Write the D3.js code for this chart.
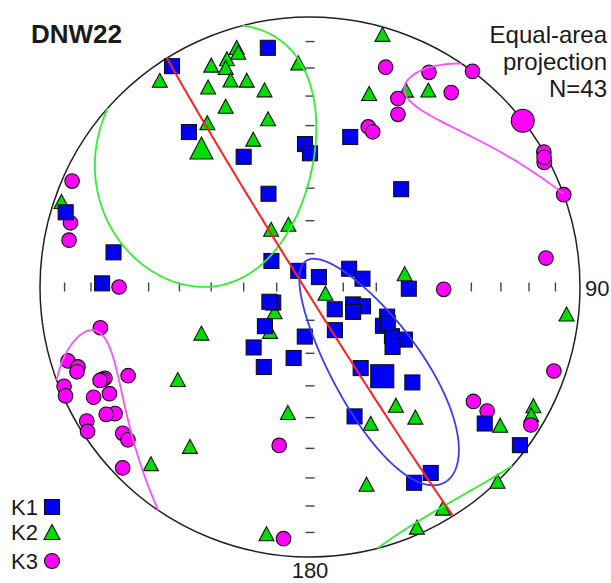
<!DOCTYPE html>
<html>
<head>
<meta charset="utf-8">
<script src="https://cdn.jsdelivr.net/npm/d3@7"></script>
<style>
  body { margin: 0; background: #fff; }
  text { font-family: "Liberation Sans", Arial, sans-serif; fill: #1a1a1a; }
</style>
</head>
<body>
<div id="container"></div>
<script>
/* DATA : principal susceptibility axes, [trend, plunge] in degrees */
const k1 = [
  [328,4],[350,11],[322,28],[333,45],[358,46],[0,49],[15,42],[43,49],[336,59],[287,6],
  [280,27],[271,24],[304,76],[324,84],[42,86],[65,77],[81,74],[91,60],[247,78],[229,72],
  [186,75],[223,65],[210,62],[193,68],[132,80],[112,76],[110,73],[120,75],[111,65],[118,65],
  [121,61],[119,57],[126,59],[150,75],[148,61],[161,48],[133,47],[152,19],[147,19],[128,19],
  [127,3],[250,77],[115,64]
];
const k2 = [
  [324,6],[336,11],[340,11],[343,8],[343,10],[339,14],[339,19],[343,21],[333,18],[347,26],
  [335,27],[346,36],[328,29],[339,41],[357,18],[16,3],[17,26],[26,20],[31,16],[289,3],
  [341,70],[326,69],[82,61],[112,85],[235,77],[222,72],[247,54],[235,40],[190,51],[144,45],
  [141,38],[156,44],[164,25],[96,5],[126,14],[118,7],[120,6],[136,0],[149,5],[156,3],
  [217,27],[222,13],[190,8]
];
const k3 = [
  [294,4],[285,9],[281,10],[270,30],[19,15],[29,10],[37,0],[36,12],[25,24],[27,29],
  [20,37],[22,38],[60,0],[62,2],[70,0],[83,13],[91,49],[259,22],[253,7],[251,10],
  [250,9],[248,2],[246,1],[246,18],[246,17],[244,26],[242,17],[243,11],[237,15],[238,12],
  [239,4],[237,2],[232,13],[230,13],[226,4],[191,40],[186,7],[109,5],[125,27],[125,21],
  [122,4],[246,16],[61,1]
];

// mean tensor axes
const k1Mean = [141, 55];
const k2Mean = [322, 35];
const k3Mean = [52, 0];

// 95% confidence cones: centre, semi-angles a / b, rotation of a from trend direction
const k1Cone = { trend: 141, plunge: 55, a: 42, b: 13, rot: 96 };
const k2Cone = { trend: 322, plunge: 35, a: 42, b: 32, rot: 115 };
const k3Cone = { trend: 52, plunge: 0, a: 33, b: 13, rot: 138 };

// plane (dip direction, dip)
const plane = { dipDir: 238, dip: 88.5 };

// plunge ticks along the N-S and E-W axes
const tickPlunges = [10, 20, 30, 40, 50, 60, 70, 80];
const tickTrends = [0, 90, 180, 270];

const sampleName = "DNW22";
const infoLines = ["Equal-area", "projection", "N=43"];

/* CONSTANTS */
const width = 611, height = 583;
const cx = 310, cy = 287, R = 270;
const rad = Math.PI / 180;

/* SCALES */
const x = d3.scaleLinear().domain([-1, 1]).range([cx - R, cx + R]);
const y = d3.scaleLinear().domain([-1, 1]).range([cy + R, cy - R]);

// unit vector: east, north, down
function vec(trend, plunge) {
  const t = trend * rad, p = plunge * rad;
  return [Math.cos(p) * Math.sin(t), Math.cos(p) * Math.cos(t), Math.sin(p)];
}
const norm = v => { const l = Math.hypot(v[0], v[1], v[2]); return v.map(d => d / l); };
const neg = v => v.map(d => -d);

// lower hemisphere equal-area projection
function toXY(v) {
  const s = v[2] < 0 ? -1 : 1;
  const k = 1 / Math.sqrt(1 + s * v[2]);
  return [x(s * v[0] * k), y(s * v[1] * k)];
}

// confidence cone -> list of projected segments (split at the primitive)
function conePaths(c) {
  const C = vec(c.trend, c.plunge);
  const T = c.trend * rad, P = c.plunge * rad, f = c.rot * rad;
  const e1 = [Math.cos(T), -Math.sin(T), 0];
  const e2 = [-Math.sin(P) * Math.sin(T), -Math.sin(P) * Math.cos(T), Math.cos(P)];
  const m = e1.map((d, i) => Math.cos(f) * d + Math.sin(f) * e2[i]);
  const n = e1.map((d, i) => -Math.sin(f) * d + Math.cos(f) * e2[i]);
  const ta = Math.tan(c.a * rad), tb = Math.tan(c.b * rad);
  const segs = [];
  let cur = null, prev = null;
  for (let i = 0; i <= 360; i++) {
    const t = 2 * Math.PI * i / 360;
    const v = norm(C.map((d, j) => d + ta * Math.cos(t) * m[j] + tb * Math.sin(t) * n[j]));
    const lower = v[2] >= 0;
    if (cur === null) {
      cur = { lower, pts: [toXY(v)] };
    } else if (lower !== cur.lower) {
      const k = prev[2] / (prev[2] - v[2]);
      let q = prev.map((p, j) => p + k * (v[j] - p));
      q[2] = 0; q = norm(q);
      cur.pts.push(toXY(cur.lower ? q : neg(q)));
      segs.push(cur);
      cur = { lower, pts: [toXY(lower ? q : neg(q)), toXY(v)] };
    } else {
      cur.pts.push(toXY(v));
    }
    prev = v;
  }
  segs.push(cur);
  if (segs.length > 1 && segs[0].lower === segs[segs.length - 1].lower) {
    const last = segs.pop();
    segs[0].pts = last.pts.concat(segs[0].pts.slice(1));
  }
  return segs.map(s => s.pts);
}

function greatCircle(p) {
  const s = vec(p.dipDir - 90, 0);
  const d = vec(p.dipDir, p.dip);
  return d3.range(0, 181, 2).map(a => toXY(s.map((v, i) => Math.cos(a * rad) * v + Math.sin(a * rad) * d[i])));
}

/* HTML ELEMENTS */
const svg = d3.select("#container")
  .append("svg")
  .attr("width", width)
  .attr("height", height);

// primitive circle
svg.append("circle")
  .attr("cx", x(0))
  .attr("cy", y(0))
  .attr("r", x(1) - x(0))
  .attr("fill", "none")
  .attr("stroke", "#222")
  .attr("stroke-width", 1.5);

// ticks
tickTrends.forEach(tr => {
  tickPlunges.forEach(pl => {
    const [px, py] = toXY(vec(tr, pl));
    const horiz = tr === 0 || tr === 180;
    svg.append("line")
      .attr("x1", horiz ? px - 4.5 : px).attr("x2", horiz ? px + 4.5 : px)
      .attr("y1", horiz ? py : py - 4.5).attr("y2", horiz ? py : py + 4.5)
      .attr("stroke", "#444")
      .attr("stroke-width", 1.4);
  });
});

// symbols
const triPath = (w, h) => `M0,${-h / 2}L${w / 2},${h / 2}L${-w / 2},${h / 2}Z`;

function drawSquares(data, s) {
  svg.selectAll(null).data(data).join("rect")
    .attr("x", d => toXY(vec(d[0], d[1]))[0] - s / 2)
    .attr("y", d => toXY(vec(d[0], d[1]))[1] - s / 2)
    .attr("width", s).attr("height", s)
    .attr("fill", "#0000f5").attr("stroke", "#111").attr("stroke-width", 1.1);
}
function drawTriangles(data, w, h) {
  svg.selectAll(null).data(data).join("path")
    .attr("d", triPath(w, h))
    .attr("transform", d => `translate(${toXY(vec(d[0], d[1]))})`)
    .attr("fill", "#00dd00").attr("stroke", "#111").attr("stroke-width", 1.1);
}
function drawCircles(data, r) {
  svg.selectAll(null).data(data).join("circle")
    .attr("cx", d => toXY(vec(d[0], d[1]))[0])
    .attr("cy", d => toXY(vec(d[0], d[1]))[1])
    .attr("r", r)
    .attr("fill", "#ff00ff").attr("stroke", "#111").attr("stroke-width", 1.1);
}

drawTriangles(k2, 15, 14);
drawTriangles([k2Mean], 23, 22);
drawCircles(k3, 7.3);
drawCircles([k3Mean], 11.5);
drawSquares(k1, 15);
drawSquares([k1Mean], 23);

// confidence cones and plane
const line = d3.line().curve(d3.curveLinear);
[[k2Cone, "#33ee33"], [k1Cone, "#3b3bff"], [k3Cone, "#ff50ff"]].forEach(([c, col]) => {
  conePaths(c).forEach(pts => {
    svg.append("path")
      .attr("d", line(pts))
      .attr("fill", "none")
      .attr("stroke", col)
      .attr("stroke-width", 1.8);
  });
});
svg.append("path")
  .attr("d", line(greatCircle(plane)))
  .attr("fill", "none")
  .attr("stroke", "#ff2020")
  .attr("stroke-width", 2);

// texts
svg.append("text")
  .attr("x", 31).attr("y", 43)
  .style("font-size", "26px").style("font-weight", "bold")
  .text(sampleName);

svg.selectAll(".info").data(infoLines).join("text")
  .attr("class", "info")
  .attr("x", 607)
  .attr("y", (d, i) => 43 + i * 27)
  .attr("text-anchor", "end")
  .style("font-size", "24px")
  .text(d => d);

const east = toXY(vec(90, 0)), south = toXY(vec(180, 0));
svg.append("text")
  .attr("x", east[0] + 5).attr("y", east[1] + 9)
  .style("font-size", "22px")
  .text("90");
svg.append("text")
  .attr("x", south[0]).attr("y", south[1] + 21)
  .attr("text-anchor", "middle")
  .style("font-size", "22px")
  .text("180");

// legend
const legend = ["K1", "K2", "K3"];
const ly = [507, 532, 561];
legend.forEach((k, i) => {
  svg.append("text")
    .attr("x", 11).attr("y", ly[i] + 8)
    .style("font-size", "22px")
    .text(k);
});
svg.append("rect").attr("x", 44.5).attr("y", ly[0] - 7.5).attr("width", 15).attr("height", 15)
  .attr("fill", "#0000f5").attr("stroke", "#111").attr("stroke-width", 1.1);
svg.append("path").attr("d", triPath(16, 15)).attr("transform", `translate(52,${ly[1]})`)
  .attr("fill", "#00dd00").attr("stroke", "#111").attr("stroke-width", 1.1);
svg.append("circle").attr("cx", 52).attr("cy", ly[2]).attr("r", 7.5)
  .attr("fill", "#ff00ff").attr("stroke", "#111").attr("stroke-width", 1.1);
</script>
</body>
</html>
